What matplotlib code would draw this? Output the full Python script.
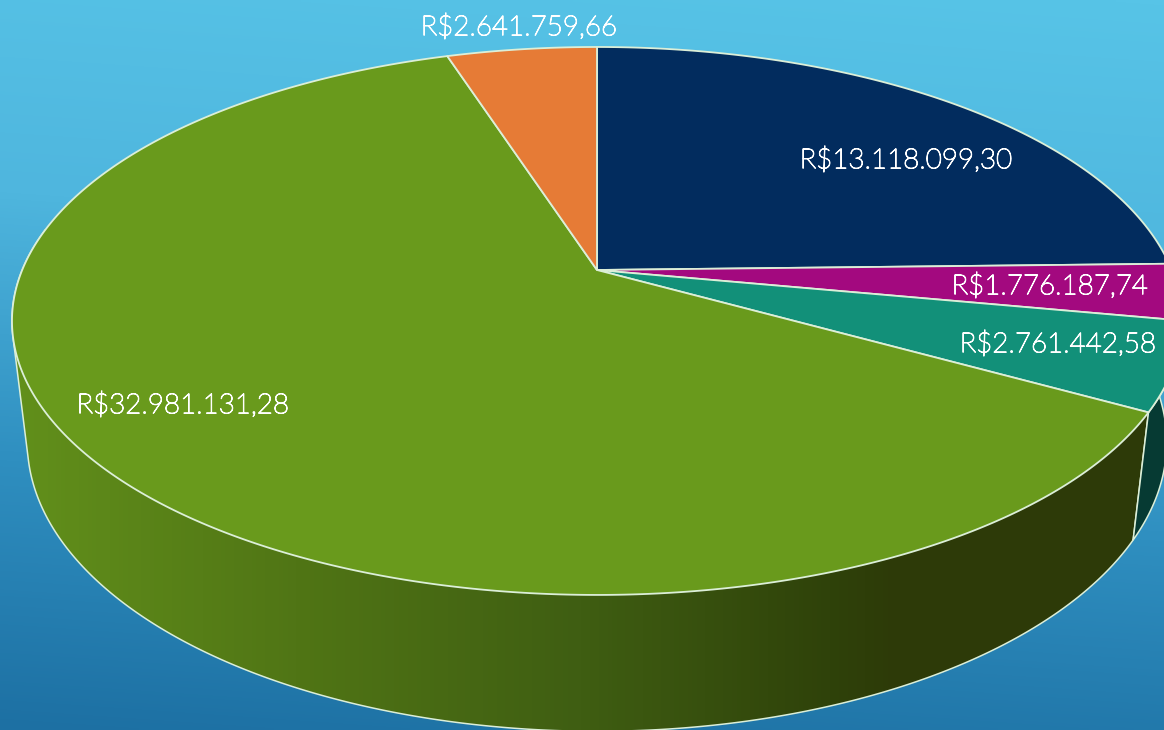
import numpy as np
import matplotlib
matplotlib.use("Agg")
import matplotlib.pyplot as plt
import matplotlib.patheffects as pe
from matplotlib.colors import LinearSegmentedColormap
from matplotlib.patches import Polygon

# Data
categories = ["Azul", "Magenta", "Verde-agua", "Verde", "Laranja"]
values = [13118099.30, 1776187.74, 2761442.58, 32981131.28, 2641759.66]
labels = ["R$13.118.099,30", "R$1.776.187,74", "R$2.761.442,58",
          "R$32.981.131,28", "R$2.641.759,66"]

# Style and layout
W, H = 1164, 730
top_colors = ["#022c5e", "#a3097f", "#129079", "#699a1c", "#e67b36"]
teal_side = "#063a33"
edge = "#dcefd8"
label_pos = [(906, 160), (1050, 286), (1058, 344), (183, 405), (519, 27)]
CX, CY, A, B, K = 597.0, 270.0, 574.8, 264.5, 0.186
M_H, C_H = 0.026, 123.0   # depth of the pie seen in perspective


def project(theta, bottom=False):
    """Disk angle (clockwise from 12 o'clock) to pixels, in perspective."""
    X, Y = np.sin(theta), np.cos(theta)
    w = 1 + K * Y + (M_H if bottom else 0)
    return CX + A * X / w, CY + (-B * Y + (C_H if bottom else 0)) / w


def arc(t0, t1, bottom=False):
    t = np.linspace(t0, t1, max(int(abs(t1 - t0) * 120), 8))
    return np.column_stack(project(t, bottom))


def hull(points):
    pts = sorted(map(tuple, points))
    def half(seq):
        out = []
        for p in seq:
            while len(out) > 1:
                a = np.subtract(out[-1], out[-2])
                b = np.subtract(p, out[-2])
                if a[0] * b[1] - a[1] * b[0] <= 0:
                    out.pop()
                else:
                    break
            out.append(p)
        return out[:-1]
    return np.array(half(pts) + half(pts[::-1]))


fig = plt.figure(figsize=(W / 100, H / 100), dpi=100)
ax = fig.add_axes([0, 0, 1, 1])
ax.set_xlim(0, W)
ax.set_ylim(H, 0)
ax.axis("off")

# Background
bg_cmap = LinearSegmentedColormap.from_list("bg", ["#57c4e7", "#4fb6de", "#2f8fc0", "#1d70a3"])
yy, xx = np.mgrid[0:1:200j, 0:1:200j]
ax.imshow(0.9 * yy + 0.1 * (1 - xx), cmap=bg_cmap, vmin=0, vmax=1,
          extent=[0, W, H, 0], aspect="auto", zorder=0, interpolation="bilinear")

angles = np.concatenate([[0], np.cumsum(values) / np.sum(values) * 2 * np.pi])

# Side walls
side_cmap = LinearSegmentedColormap.from_list(
    "side", [(0, "#62901b"), (0.25, "#507515"), (0.5, "#3f5e12"),
             (0.72, "#2f420a"), (0.78, "#2d3a08"), (1, "#2d3a08")])
t_end = angles[3]
t_left = 1.55 * np.pi
green_pts = np.vstack([arc(t_end, t_left), arc(t_end, t_left, True)])
green_hull = hull(green_pts)
poly = Polygon(green_hull, closed=True, fc="none", ec="none", transform=ax.transData)
ax.add_patch(poly)
grad = ax.imshow(np.linspace(0, 1, 256)[None, :], cmap=side_cmap, vmin=0, vmax=1,
                 extent=[12, 1150, H + 10, 250], aspect="auto", zorder=1)
grad.set_clip_path(poly)
ax.set_xlim(0, W)
ax.set_ylim(H, 0)
ax.add_patch(Polygon(green_hull, closed=True, fc="none", ec=edge, lw=1.1, zorder=2))

teal_wall = np.vstack([arc(angles[1], angles[3]), arc(angles[3], angles[1], True)])
ax.add_patch(Polygon(teal_wall, closed=True, fc=teal_side, ec=edge, lw=1.1, zorder=2))

# Top faces
apex = np.array([[CX, CY]])
for i, c in enumerate(top_colors):
    face = np.vstack([apex, arc(angles[i], angles[i + 1])])
    ax.add_patch(Polygon(face, closed=True, fc=c, ec=edge, lw=1.3, zorder=3,
                         joinstyle="round"))

# Labels
for s, (x, y) in zip(labels, label_pos):
    ax.text(x, y, s, color="white", fontsize=20, family="Lato", weight="light",
            ha="center", va="center", zorder=5,
            path_effects=[pe.withStroke(linewidth=0.8, foreground="white")])

fig.savefig("out.png", dpi=100)
